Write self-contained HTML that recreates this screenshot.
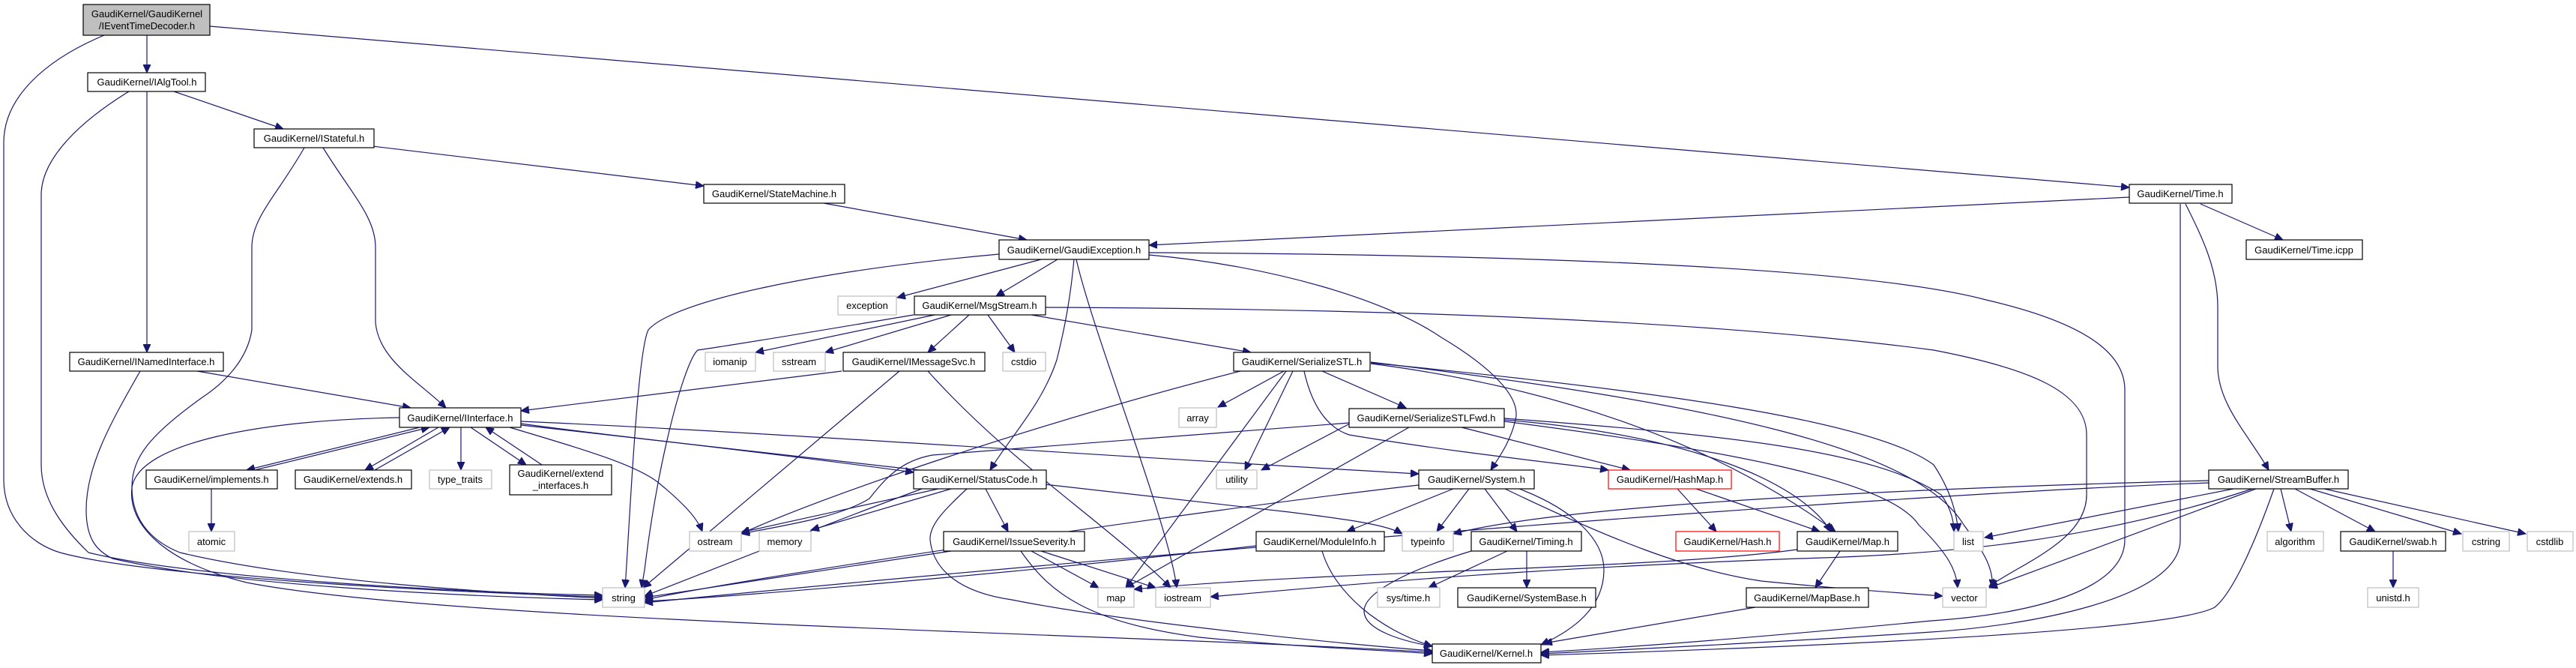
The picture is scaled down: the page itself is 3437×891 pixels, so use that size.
<!DOCTYPE html>
<html><head><meta charset="utf-8"><style>
html,body{margin:0;padding:0;background:#fff;}
svg{display:block;}
text{font-family:"Liberation Sans",Arial,sans-serif;font-size:13px;fill:#000;text-anchor:middle;}
.n{fill:#fff;stroke:#000;stroke-width:1.2;}
.g{fill:#fff;stroke:#bfbfbf;stroke-width:1.2;}
.r{fill:#fff;stroke:#ff0000;stroke-width:1.2;}
.e{fill:none;stroke:#191970;stroke-width:1.2;}
</style></head><body>
<svg width="3437" height="891" viewBox="0 0 3437 891" xmlns="http://www.w3.org/2000/svg">
<defs><marker id="a" markerUnits="userSpaceOnUse" markerWidth="12" markerHeight="10" refX="11" refY="5" orient="auto"><path d="M0,0 L11,5 L0,10 Z" fill="#191970" stroke="#191970"/></marker></defs>
<g marker-end="url(#a)">
<path class="e" d="M196,47 L196,97"/>
<path class="e" d="M139,47 C60,80 5,130 5,190 L5,640 C5,690 40,725 80,737 C200,770 600,790 804,796"/>
<path class="e" d="M280,35 L2841,250"/>
<path class="e" d="M232,122 L378,172"/>
<path class="e" d="M196,122 L196,470"/>
<path class="e" d="M172,122 C110,160 55,210 55,260 L55,620 C55,670 90,710 118,737 C250,770 600,790 804,794"/>
<path class="e" d="M497,195 L939,248"/>
<path class="e" d="M431,197 C470,260 501,290 501,330 L501,430 C505,480 560,510 595,544"/>
<path class="e" d="M406,197 C370,260 336,290 336,330 L336,440 C330,480 300,510 270,530 C200,580 176,610 176,650 C176,700 210,725 240,737 C400,775 650,790 804,798"/>
<path class="e" d="M263,495 L548,544"/>
<path class="e" d="M187,495 C150,560 115,620 115,680 C115,720 130,735 150,745 C300,780 600,795 804,800"/>
<path class="e" d="M533,557 C350,560 186,590 176,650 C170,700 220,750 329,777 C600,830 1500,845 1911,870"/>
<path class="e" d="M1099,271 L1370,320"/>
<path class="e" d="M2841,263 L1533,327"/>
<path class="e" d="M2936,272 L3046,320"/>
<path class="e" d="M2916,272 C2940,320 2959,360 2959,410 L2959,490 C2960,540 3000,580 3027,627"/>
<path class="e" d="M2909,272 L2909,720 C2909,800 2700,835 2577,843 C2400,855 2200,865 2056,872"/>
<path class="e" d="M1533,337 C2100,340 2500,360 2650,400 C2780,430 2835,470 2835,520 L2835,720 C2835,790 2700,820 2577,828 C2400,845 2200,862 2056,870"/>
<path class="e" d="M1395,410 C1900,412 2300,430 2580,467 C2700,490 2784,520 2784,580 L2784,660 C2784,720 2700,750 2654,782"/>
<path class="e" d="M1389,346 L1197,397"/>
<path class="e" d="M1411,346 L1329,395"/>
<path class="e" d="M1333,339 C1100,360 900,400 865,440 C850,470 840,700 834,784"/>
<path class="e" d="M1433,346 C1428,400 1420,440 1410,480 C1390,540 1350,580 1321,627"/>
<path class="e" d="M1436,346 C1460,450 1560,700 1570,784"/>
<path class="e" d="M1533,340 C1700,355 1850,400 1923,450 C1990,490 2030,530 2022,560 C2015,590 2000,610 1989,627"/>
<path class="e" d="M1247,420 L1008,470"/>
<path class="e" d="M1219,420 C1100,440 980,460 931,467 C915,480 880,600 860,760 L856,784"/>
<path class="e" d="M1269,420 L1101,470"/>
<path class="e" d="M1293,420 L1238,470"/>
<path class="e" d="M1318,420 L1354,470"/>
<path class="e" d="M1376,420 L1669,470"/>
<path class="e" d="M1123,495 L695,548"/>
<path class="e" d="M1200,495 L858,784"/>
<path class="e" d="M1238,495 C1350,620 1480,700 1562,784"/>
<path class="e" d="M560,570 L329,627"/>
<path class="e" d="M340,627 L573,570"/>
<path class="e" d="M585,570 L487,627"/>
<path class="e" d="M500,627 L600,570"/>
<path class="e" d="M615,570 L615,627"/>
<path class="e" d="M628,570 L702,620"/>
<path class="e" d="M723,620 L648,570"/>
<path class="e" d="M680,570 C780,600 850,620 880,645 C910,670 930,690 937,709"/>
<path class="e" d="M695,565 C800,580 1000,600 1219,630"/>
<path class="e" d="M695,562 C1000,575 1500,610 1893,632"/>
<path class="e" d="M695,567 C1000,600 1500,660 1720,683 C1800,693 1850,700 1871,712"/>
<path class="e" d="M1252,652 L989,710"/>
<path class="e" d="M1269,652 L1082,707"/>
<path class="e" d="M1315,652 L1345,709"/>
<path class="e" d="M1290,652 C1260,680 1240,700 1241,720 C1245,760 1280,790 1350,800 C1500,830 1800,860 1911,868"/>
<path class="e" d="M1230,652 C1100,700 950,760 860,795"/>
<path class="e" d="M1376,735 L1466,784"/>
<path class="e" d="M1389,735 L1542,784"/>
<path class="e" d="M1362,735 C1400,790 1450,830 1600,850 C1750,865 1850,867 1911,872"/>
<path class="e" d="M1269,735 L860,797"/>
<path class="e" d="M1713,495 L1625,543"/>
<path class="e" d="M1725,495 L1661,627"/>
<path class="e" d="M1716,495 L1502,784"/>
<path class="e" d="M1764,495 L1876,544"/>
<path class="e" d="M1740,495 C1750,540 1770,570 1800,580 C1950,605 2100,620 2146,627"/>
<path class="e" d="M1655,495 C1400,560 1100,660 989,712"/>
<path class="e" d="M1829,485 C2100,520 2300,600 2449,709"/>
<path class="e" d="M1829,484 C2200,520 2500,560 2580,620 C2600,650 2610,680 2613,709"/>
<path class="e" d="M1829,483 C2300,540 2560,600 2620,700 C2650,740 2660,760 2658,784"/>
<path class="e" d="M1801,565 L1683,627"/>
<path class="e" d="M1801,564 L1244,607 C1200,615 1180,640 1160,665 C1120,690 1050,700 989,712"/>
<path class="e" d="M1880,570 L1502,784"/>
<path class="e" d="M1950,570 L2175,627"/>
<path class="e" d="M2007,560 C2250,580 2400,640 2443,709"/>
<path class="e" d="M2007,558 C2300,580 2500,600 2590,660 C2605,680 2607,700 2607,709"/>
<path class="e" d="M2007,562 C2300,600 2520,640 2560,700 C2600,740 2610,760 2612,784"/>
<path class="e" d="M1939,652 L1797,709"/>
<path class="e" d="M1960,652 L1917,709"/>
<path class="e" d="M1981,652 L2024,709"/>
<path class="e" d="M2027,652 C2100,680 2140,720 2140,760 C2140,810 2100,840 2056,860"/>
<path class="e" d="M2008,652 C2150,720 2250,760 2350,775 C2450,785 2550,792 2592,795"/>
<path class="e" d="M1893,647 C1600,680 1000,770 860,800"/>
<path class="e" d="M2238,652 L2290,709"/>
<path class="e" d="M2263,652 L2428,709"/>
<path class="e" d="M1764,735 C1780,790 1840,840 1911,862"/>
<path class="e" d="M1676,728 C1400,760 1000,795 860,802"/>
<path class="e" d="M2011,735 L1906,784"/>
<path class="e" d="M2037,735 L2037,784"/>
<path class="e" d="M1963,735 C1880,760 1820,790 1820,815 C1820,840 1870,855 1911,862"/>
<path class="e" d="M2398,733 C2200,760 1800,760 1513,786"/>
<path class="e" d="M2455,735 L2422,784"/>
<path class="e" d="M2342,810 L2060,858"/>
<path class="e" d="M2947,641 C2600,650 2100,670 1939,712"/>
<path class="e" d="M2947,644 C2500,660 1500,740 860,804"/>
<path class="e" d="M2980,652 L2648,717"/>
<path class="e" d="M3010,652 L2654,784"/>
<path class="e" d="M3005,652 C2800,720 2600,740 2400,745 C2000,760 1800,780 1615,796"/>
<path class="e" d="M3034,652 C3010,720 2980,790 2955,810 C2900,840 2500,860 2056,874"/>
<path class="e" d="M3043,652 L3057,709"/>
<path class="e" d="M3062,652 L3169,709"/>
<path class="e" d="M3082,652 L3284,712"/>
<path class="e" d="M3101,652 L3370,712"/>
<path class="e" d="M3193,735 L3193,784"/>
<path class="e" d="M282,652 L282,709"/>
</g>
<rect x="111" y="6" width="169" height="41" fill="#bfbfbf" stroke="#000" stroke-width="1.2"/>
<text x="196" y="23">GaudiKernel/GaudiKernel</text><text x="196" y="39">/IEventTimeDecoder.h</text>
<rect class="n" x="117" y="97" width="157" height="25"/><text x="196" y="114">GaudiKernel/IAlgTool.h</text>
<rect class="n" x="339" y="172" width="160" height="25"/><text x="419" y="189">GaudiKernel/IStateful.h</text>
<rect class="n" x="939" y="246" width="188" height="25"/><text x="1033" y="263">GaudiKernel/StateMachine.h</text>
<rect class="n" x="2841" y="246" width="137" height="25"/><text x="2909" y="263">GaudiKernel/Time.h</text>
<rect class="n" x="2997" y="320" width="155" height="26"/><text x="3074" y="338">GaudiKernel/Time.icpp</text>
<rect class="n" x="1333" y="320" width="200" height="26"/><text x="1433" y="338">GaudiKernel/GaudiException.h</text>
<rect class="g" x="1118" y="395" width="78" height="25"/><text x="1157" y="412">exception</text>
<rect class="n" x="1220" y="395" width="175" height="25"/><text x="1307" y="412">GaudiKernel/MsgStream.h</text>
<rect class="n" x="93" y="470" width="205" height="25"/><text x="195" y="487">GaudiKernel/INamedInterface.h</text>
<rect class="g" x="941" y="470" width="67" height="25"/><text x="974" y="487">iomanip</text>
<rect class="g" x="1032" y="470" width="69" height="25"/><text x="1066" y="487">sstream</text>
<rect class="n" x="1125" y="470" width="189" height="25"/><text x="1219" y="487">GaudiKernel/IMessageSvc.h</text>
<rect class="g" x="1338" y="470" width="57" height="25"/><text x="1366" y="487">cstdio</text>
<rect class="n" x="1646" y="470" width="182" height="25"/><text x="1737" y="487">GaudiKernel/SerializeSTL.h</text>
<rect class="n" x="533" y="544" width="162" height="26"/><text x="614" y="562">GaudiKernel/IInterface.h</text>
<rect class="g" x="1573" y="544" width="50" height="26"/><text x="1598" y="562">array</text>
<rect class="n" x="1800" y="545" width="207" height="25"/><text x="1903" y="562">GaudiKernel/SerializeSTLFwd.h</text>
<rect class="n" x="195" y="627" width="175" height="25"/><text x="282" y="644">GaudiKernel/implements.h</text>
<rect class="n" x="394" y="627" width="155" height="25"/><text x="471" y="644">GaudiKernel/extends.h</text>
<rect class="g" x="573" y="627" width="83" height="25"/><text x="614" y="644">type_traits</text>
<rect class="n" x="680" y="620" width="136" height="40"/><text x="748" y="636">GaudiKernel/extend</text><text x="748" y="652">_interfaces.h</text>
<rect class="n" x="1219" y="627" width="177" height="25"/><text x="1307" y="644">GaudiKernel/StatusCode.h</text>
<rect class="g" x="1623" y="627" width="54" height="25"/><text x="1650" y="644">utility</text>
<rect class="n" x="1893" y="627" width="154" height="25"/><text x="1970" y="644">GaudiKernel/System.h</text>
<rect class="r" x="2146" y="627" width="164" height="25"/><text x="2228" y="644">GaudiKernel/HashMap.h</text>
<rect class="n" x="2947" y="627" width="186" height="25"/><text x="3040" y="644">GaudiKernel/StreamBuffer.h</text>
<rect class="g" x="252" y="709" width="61" height="26"/><text x="282" y="727">atomic</text>
<rect class="g" x="920" y="709" width="69" height="26"/><text x="954" y="727">ostream</text>
<rect class="g" x="1013" y="709" width="69" height="26"/><text x="1047" y="727">memory</text>
<rect class="n" x="1259" y="709" width="188" height="26"/><text x="1353" y="727">GaudiKernel/IssueSeverity.h</text>
<rect class="n" x="1676" y="709" width="171" height="26"/><text x="1761" y="727">GaudiKernel/ModuleInfo.h</text>
<rect class="g" x="1871" y="709" width="68" height="26"/><text x="1905" y="727">typeinfo</text>
<rect class="n" x="1963" y="709" width="147" height="26"/><text x="2036" y="727">GaudiKernel/Timing.h</text>
<rect class="r" x="2236" y="709" width="138" height="26"/><text x="2305" y="727">GaudiKernel/Hash.h</text>
<rect class="n" x="2398" y="709" width="134" height="26"/><text x="2465" y="727">GaudiKernel/Map.h</text>
<rect class="g" x="2607" y="709" width="39" height="26"/><text x="2626" y="727">list</text>
<rect class="g" x="3025" y="709" width="75" height="26"/><text x="3062" y="727">algorithm</text>
<rect class="n" x="3123" y="709" width="140" height="26"/><text x="3193" y="727">GaudiKernel/swab.h</text>
<rect class="g" x="3286" y="709" width="62" height="26"/><text x="3317" y="727">cstring</text>
<rect class="g" x="3372" y="709" width="61" height="26"/><text x="3402" y="727">cstdlib</text>
<rect class="g" x="804" y="784" width="56" height="26"/><text x="832" y="802">string</text>
<rect class="g" x="1465" y="784" width="48" height="26"/><text x="1489" y="802">map</text>
<rect class="g" x="1542" y="784" width="73" height="26"/><text x="1578" y="802">iostream</text>
<rect class="g" x="1838" y="784" width="83" height="26"/><text x="1879" y="802">sys/time.h</text>
<rect class="n" x="1945" y="784" width="184" height="26"/><text x="2037" y="802">GaudiKernel/SystemBase.h</text>
<rect class="n" x="2330" y="784" width="163" height="26"/><text x="2411" y="802">GaudiKernel/MapBase.h</text>
<rect class="g" x="2592" y="784" width="58" height="26"/><text x="2621" y="802">vector</text>
<rect class="g" x="3159" y="784" width="68" height="26"/><text x="3193" y="802">unistd.h</text>
<rect class="n" x="1911" y="859" width="145" height="25"/><text x="1983" y="876">GaudiKernel/Kernel.h</text>
</svg>
</body></html>
